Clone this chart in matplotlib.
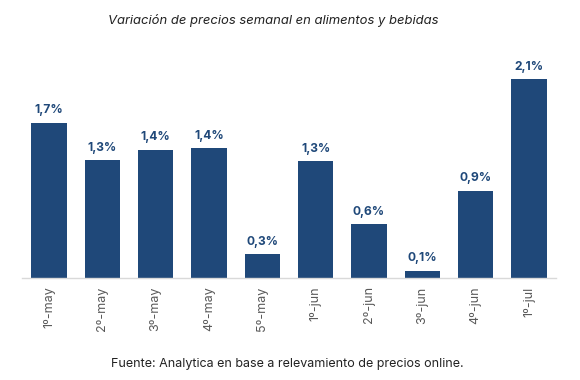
import numpy as np
import matplotlib
matplotlib.use("Agg")
import matplotlib.pyplot as plt

# weekly price change (%)
weeks = ["1º-may", "2º-may", "3º-may", "4º-may", "5º-may",
         "1º-jun", "2º-jun", "3º-jun", "4º-jun", "1º-jul"]
variation = [1.67, 1.27, 1.38, 1.40, 0.26, 1.26, 0.58, 0.08, 0.94, 2.14]

bar_color = "#1f4879"

plt.rcParams["font.family"] = ["Inter", "DejaVu Sans"]

fig = plt.figure(figsize=(5.8, 3.8), dpi=100)
ax = fig.add_axes([0.0385, 0.2684, 0.9195, 0.575])

x = np.arange(len(weeks))
bars = ax.bar(x, variation, width=0.665, color=bar_color, zorder=2)

for xi, v in zip(x, variation):
    lbl = "{:.1f}%".format(v).replace(".", ",")
    ax.annotate(lbl, (xi, v), xytext=(0, 4.5), textcoords="offset points",
                ha="center", va="bottom", fontsize=8.7, fontweight="bold",
                color=bar_color)

ax.set_xlim(-0.5, len(weeks) - 0.5)
ax.set_ylim(0, 2.35)
ax.set_xticks(x)
ax.set_xticklabels(weeks, rotation=90, fontsize=9, color="#595959")
ax.tick_params(axis="x", length=0, pad=6)
ax.set_yticks([])
for s in ["top", "right", "left"]:
    ax.spines[s].set_visible(False)
ax.spines["bottom"].set_color("#d9d9d9")
ax.spines["bottom"].set_linewidth(1)

fig.text(0.471, 0.947, "Variación de precios semanal en alimentos y bebidas",
         ha="center", va="center", fontsize=9.4, fontstyle="italic", color="#222222")
fig.text(0.496, 0.042, "Fuente: Analytica en base a relevamiento de precios online.",
         ha="center", va="center", fontsize=9, color="#222222")

fig.savefig("out.png", dpi=100)
